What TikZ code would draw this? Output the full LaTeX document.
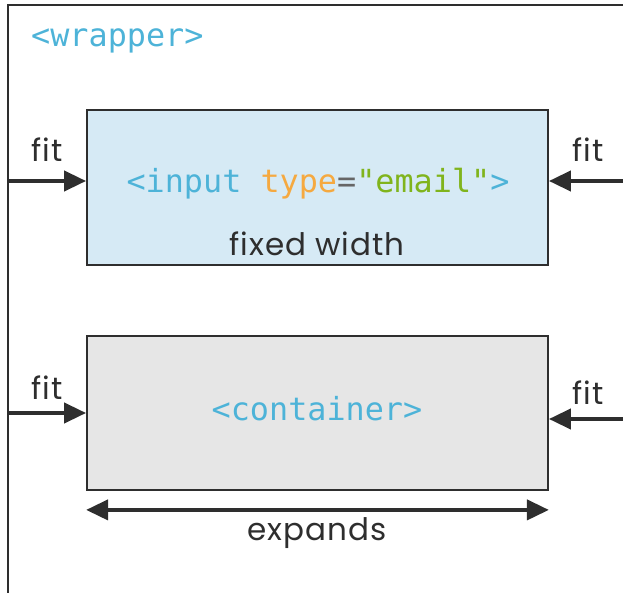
\documentclass[tikz,border=0pt]{standalone}
\usepackage{fontspec}
\setmainfont{Poppins}[LetterSpace=3]
\setmonofont{DejaVu Sans Mono}
\usetikzlibrary{arrows.meta,positioning}

\definecolor{ink}{HTML}{2E2E2E}
\definecolor{tagblue}{HTML}{4DB3D8}
\definecolor{attrorange}{HTML}{F5A940}
\definecolor{valgreen}{HTML}{80B41C}
\definecolor{eqgray}{HTML}{666666}
\definecolor{inputfill}{HTML}{D6EAF5}
\definecolor{boxfill}{HTML}{E6E6E6}

\tikzset{
  code/.style={font=\fontsize{31.8}{36}\selectfont\ttfamily, text=tagblue, inner sep=0pt},
  lbl/.style={font=\fontsize{31}{36}\selectfont, text=ink, inner sep=0pt},
  elbox/.style={draw=ink, line width=1.8pt, minimum width=461pt, minimum height=155pt, inner sep=0pt},
  fitarrow/.style={-{Triangle[length=22pt,width=20pt]}, line width=4pt, draw=ink},
}

\begin{document}
\begin{tikzpicture}[x=1pt, y=-1pt]
  \clip (0,0) rectangle (623,593);
  % outer wrapper, only its left and top edges show
  \draw[ink, line width=1.8pt] (640,5) -- (8,5) -- (8,620);
  \node[code, anchor=west] (wraptag) at (31,41) {<wrapper>};

  % input element
  \node[elbox, fill=inputfill] (inbox) at (317.5,187.5) {};
  \node[code] (intag) at (318,184) {<input \textcolor{attrorange}{type}\textcolor{eqgray}{=}\textcolor{valgreen}{"email"}>};
  \node[lbl] (inlbl) at (317,244) {fixed width};

  % container element
  \node[elbox, fill=boxfill, minimum height=154pt] (cbox) at (317.5,413) {};
  \node[code] (ctag) at (317,409) {<container>};

  % fit arrows
  \coordinate (tl) at (8,181);
  \coordinate (tr) at (630,181);
  \coordinate (bl) at (8,413);
  \coordinate (br) at (630,419);
  \draw[fitarrow] (tl) -- (tl -| inbox.west);
  \draw[fitarrow] (tr) -- (tr -| inbox.east);
  \draw[fitarrow] (bl) -- (bl -| cbox.west);
  \draw[fitarrow] (br) -- (br -| cbox.east);
  \node[lbl] (fittl) at (47,150) {fit};
  \node[lbl] (fittr) at (588,150) {fit};
  \node[lbl] (fitbl) at (47,388) {fit};
  \node[lbl] (fitbr) at (588,393) {fit};

  % width of the container
  \coordinate (ea) at ([yshift=-19pt]cbox.south west);
  \coordinate (eb) at ([yshift=-19pt]cbox.south east);
  \draw[fitarrow, {Triangle[length=22pt,width=20pt]}-{Triangle[length=22pt,width=20pt]}] (ea) -- (eb);
  \node[lbl] (explbl) at (317,533) {expands};
\end{tikzpicture}
\end{document}
